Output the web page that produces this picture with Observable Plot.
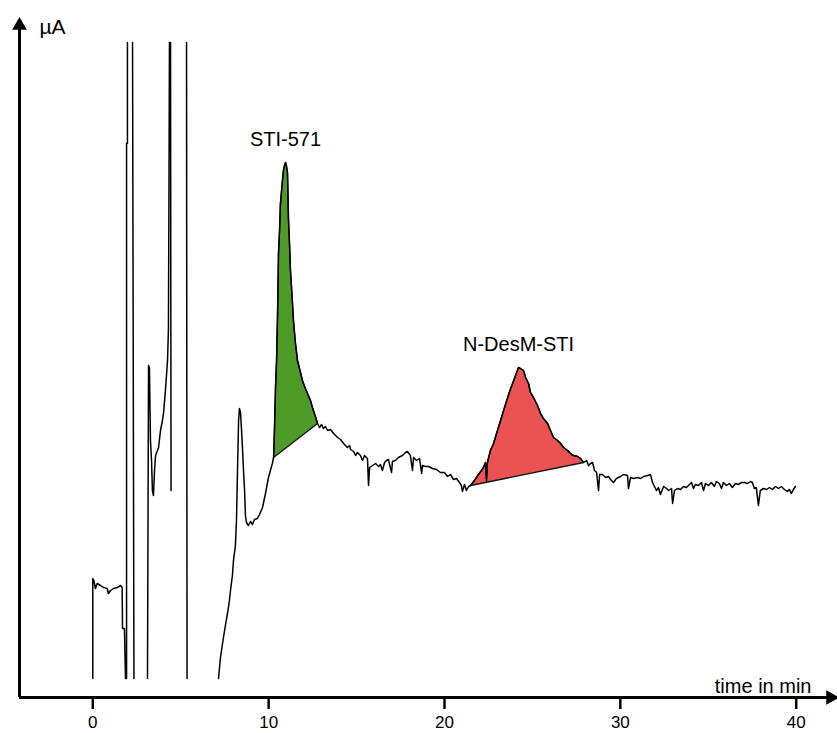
<!DOCTYPE html>
<html><head><meta charset="utf-8">
<script src="https://cdn.jsdelivr.net/npm/d3@7"></script>
<script src="https://cdn.jsdelivr.net/npm/@observablehq/plot@0.6"></script>
<style>html,body{margin:0;padding:0;background:#fff}#chart svg{display:block}</style>
</head><body><div id="chart"></div>
<script>
// retention time (min); null marks a break where the signal leaves the recorded window
const time = [
  0.00,0.00,0.06,0.15,0.25,0.44,0.61,0.82,0.89,1.01,
  1.18,1.39,1.58,1.67,1.69,1.80,1.86,1.92,1.92,1.97,
  1.97,null,2.26,2.34,null,3.11,3.17,3.22,3.28,3.34,
  3.39,3.45,3.51,3.57,3.68,3.74,3.85,3.96,4.02,4.13,
  4.19,4.25,4.30,4.33,4.36,null,4.42,4.45,null,5.33,
  5.36,null,7.15,7.26,7.32,7.43,7.54,7.66,7.77,7.83,
  7.94,8.00,8.11,8.17,8.23,8.29,8.34,8.40,8.46,8.51,
  8.57,8.63,8.68,8.74,8.85,8.97,9.08,9.19,9.36,9.48,
  9.65,9.76,9.82,9.99,10.10,10.21,10.28,10.33,10.39,10.45,
  10.50,10.56,10.62,10.67,10.76,10.84,10.90,10.96,11.01,11.07,
  11.13,11.19,11.24,11.33,11.41,11.52,11.64,11.81,11.92,12.09,
  12.21,12.38,12.49,12.66,12.78,12.89,13.01,13.12,13.23,13.35,
  13.52,13.69,13.92,14.09,14.26,14.48,14.60,14.66,14.83,14.94,
  15.05,15.22,15.34,15.45,15.56,15.62,15.68,15.74,15.91,16.08,
  16.25,16.36,16.47,16.59,16.70,16.81,16.99,17.04,17.21,17.38,
  17.61,17.78,17.89,18.06,18.18,18.24,18.41,18.58,18.70,18.75,
  18.92,19.09,19.32,19.55,19.77,20.00,20.17,20.34,20.51,20.68,
  20.85,20.96,21.02,21.14,21.25,21.37,21.48,21.70,21.93,22.10,
  22.21,22.33,22.39,22.44,22.61,22.79,23.01,23.19,23.36,23.59,
  23.76,23.87,24.04,24.21,24.32,24.49,24.61,24.78,24.89,25.06,
  25.29,25.46,25.63,25.86,26.03,26.20,26.43,26.60,26.77,27.00,
  27.16,27.34,27.57,27.74,27.91,28.08,28.19,28.31,28.42,28.53,
  28.65,28.76,28.82,28.99,29.16,29.33,29.44,29.61,29.78,30.01,
  30.18,30.41,30.46,30.58,30.75,30.98,31.15,31.32,31.54,31.71,
  31.83,31.94,32.05,32.17,32.28,32.46,32.63,32.74,32.91,32.97,
  33.08,33.25,33.42,33.59,33.76,33.93,34.05,34.16,34.27,34.44,
  34.61,34.73,34.84,35.01,35.18,35.35,35.46,35.63,35.75,35.86,
  36.03,36.20,36.37,36.54,36.71,36.89,37.06,37.23,37.40,37.51,
  37.62,37.73,37.85,37.96,38.14,38.31,38.48,38.65,38.82,38.99,
  39.16,39.33,39.50,39.61,39.72,39.84,39.95
];
// detector current (arbitrary µA units)
const current = [
  0.0,10.0,9.8,9.0,9.5,9.3,9.1,9.0,8.5,8.8,
  9.0,9.1,9.3,9.1,5.0,5.0,0.0,0.0,53.5,53.5,
  63.6,null,63.6,0.0,null,0.0,31.3,31.1,23.8,21.8,
  18.8,18.3,20.8,22.3,22.8,23.1,24.8,25.8,26.5,28.8,
  30.3,31.8,34.8,47.8,63.6,null,63.6,18.8,null,63.6,
  0.0,null,0.0,2.1,2.8,4.1,5.3,6.5,7.8,8.8,
  10.3,11.8,13.3,15.8,20.8,25.8,27.0,26.6,24.8,23.1,
  20.8,18.8,16.3,15.6,15.3,15.7,15.4,15.9,16.0,16.4,
  17.1,18.0,18.5,20.1,20.8,21.5,22.1,24.8,29.1,31.8,
  35.8,42.5,44.8,47.5,49.3,50.8,51.3,51.6,51.3,50.6,
  45.8,43.3,40.8,38.3,35.8,33.6,31.8,30.6,29.8,29.0,
  28.5,27.8,27.1,26.2,25.5,25.1,25.4,25.0,25.2,24.8,
  24.9,24.5,24.1,23.9,23.5,23.1,23.3,22.9,22.7,22.3,
  22.6,22.3,21.8,22.3,22.1,22.0,19.3,21.1,21.3,21.5,
  21.2,21.4,20.8,21.6,21.8,21.9,20.6,21.7,21.8,22.1,
  22.3,22.6,22.7,22.3,20.8,22.1,21.8,22.0,20.5,21.3,
  21.2,21.2,21.0,20.9,20.6,20.6,20.2,20.4,19.9,20.0,
  19.6,19.3,18.7,19.4,18.8,19.2,19.3,19.8,20.4,20.8,
  21.1,21.6,19.8,21.6,22.8,23.5,24.8,25.8,26.8,28.1,
  29.0,29.5,30.3,31.1,31.0,30.8,30.1,29.5,28.6,28.1,
  27.3,26.5,26.0,25.5,24.8,24.1,23.8,23.5,23.1,22.8,
  22.5,22.3,22.2,22.0,21.6,21.8,21.3,21.5,21.6,20.8,
  20.6,18.8,20.4,20.4,20.1,20.2,19.9,19.6,20.0,20.2,
  20.4,20.3,19.0,20.1,20.0,20.1,20.0,20.2,20.3,20.4,
  19.6,19.2,18.8,19.1,18.4,19.2,19.0,18.8,19.0,17.5,
  18.8,19.0,18.9,19.2,19.1,19.4,19.6,19.0,19.4,19.3,
  19.6,18.8,19.5,19.3,19.6,19.2,19.7,19.5,19.0,19.6,
  19.3,19.5,19.1,19.5,19.4,19.6,19.6,19.5,19.7,19.6,
  19.0,19.1,17.3,18.8,19.0,18.9,19.1,18.9,19.2,19.0,
  19.2,18.9,18.7,18.9,18.5,18.9,19.2
];
const peakNames = ["STI-571", "N-DesM-STI"];
const peakStart = [10.28, 21.48];
const peakEnd = [12.78, 27.91];
const peakColors = ["#4f9b28", "#eb5252"];
const xTicks = [0, 10, 20, 30, 40];
const xLabel = "time in min";
const yLabel = "µA";

const trace = time.map((t, i) => ({t, v: current[i]}));
const peaks = peakNames.map((name, k) => {
  const pts = trace.filter(d => d.t != null && d.v != null && d.t >= peakStart[k] && d.t <= peakEnd[k]);
  const apex = pts.reduce((a, b) => (b.v > a.v ? b : a));
  return {name, pts, apex, color: peakColors[k]};
});

const xMin = -4.168, xMax = 42.348, yMin = -1.9, yMax = 67.8;
const font = "'Liberation Sans', Arial, Helvetica, sans-serif";

const chart = Plot.plot({
  width: 837,
  height: 733,
  marginLeft: 19,
  marginRight: 0,
  marginTop: 0,
  marginBottom: 36,
  style: {fontFamily: font, background: "#fff", color: "#000"},
  x: {domain: [xMin, xMax]},
  y: {domain: [yMin, yMax], axis: null},
  marks: [
    ...peaks.map(p => Plot.line(p.pts, {x: "t", y: "v", curve: "linear-closed", fill: p.color, stroke: "#111", strokeWidth: 1.3})),
    Plot.line(trace, {x: "t", y: "v", stroke: "#000", strokeWidth: 1.5}),
    Plot.text(peaks, {x: d => d.apex.t, y: d => d.apex.v, text: "name", lineAnchor: "bottom", dy: -17, fontSize: 20, fill: "#000"}),
    Plot.ruleY([yMin], {x1: xMin, x2: xMax, strokeWidth: 3, stroke: "#000"}),
    Plot.ruleX([xMin], {y1: yMin, y2: yMax - 2.5, strokeWidth: 3, stroke: "#000"}),
    Plot.dot([0], {frameAnchor: "bottom-right", dx: -7, symbol: "triangle2", r: 7, rotate: 90, fill: "#000", stroke: "none"}),
    Plot.dot([0], {frameAnchor: "top-left", dy: 25, symbol: "triangle2", r: 7, fill: "#000", stroke: "none"}),
    Plot.text([yLabel], {frameAnchor: "top-left", dx: 20, dy: 33, textAnchor: "start", lineAnchor: "bottom", fontSize: 21, fill: "#000"}),
    Plot.text([xLabel], {frameAnchor: "bottom-right", dx: -26, dy: -5, textAnchor: "end", lineAnchor: "bottom", fontSize: 20, fill: "#000"}),
    Plot.axisX({ticks: xTicks, tickSize: 12, tickPadding: 6, strokeWidth: 2.5, fontSize: 17, label: null, fill: "#000"})
  ]
});
document.getElementById("chart").appendChild(chart);
</script>
</body></html>
